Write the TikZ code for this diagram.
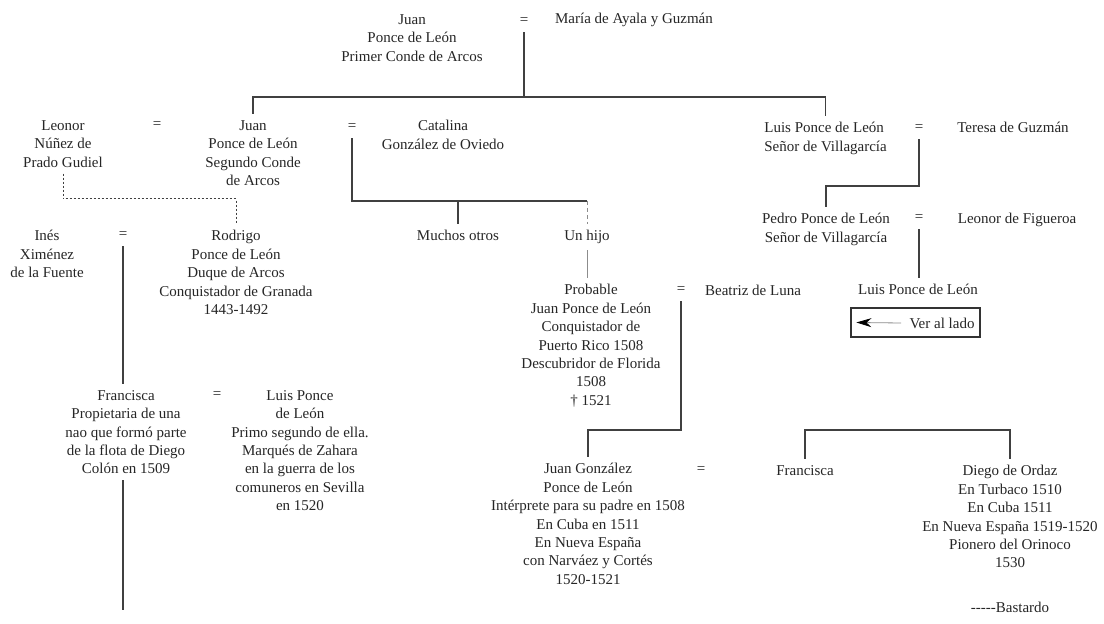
\documentclass[tikz,border=0pt]{standalone}
\usepackage{fontspec}
\setmainfont{Liberation Serif}
\usetikzlibrary{arrows.meta}

\begin{document}
\begin{tikzpicture}[x=0.5pt,y=-0.5pt,
    person/.style={align=center, anchor=north, yshift=5.5pt, inner xsep=0pt, inner ysep=3pt,
                   text=black!85, font=\fontsize{7.5}{9.2}\selectfont},
    eq/.style={inner sep=0pt, minimum height=11pt, text=black!85, font=\fontsize{7.5}{9.2}\selectfont},
    line/.style={draw=black!75, line width=0.55pt},
    thin line/.style={draw=black!45, line width=0.4pt},
    bastard/.style={draw=black!75, line width=0.5pt, dash pattern=on 1.2pt off 0.8pt}]

    \path[use as bounding box, fill=white] (0,0) rectangle (1104,624);

    \node[person] (jpl1) at (412,19) {Juan\\Ponce de León\\Primer Conde de Arcos};
    \node[eq] (eq1) at (524,21) {=};
    \node[person] (maria) at (634,18) {María de Ayala y Guzmán};

    \node[person] (leonor1) at (63,125) {Leonor\\Núñez de\\Prado Gudiel};
    \node[eq] (eq2) at (157,125) {=};
    \node[person] (jpl2) at (253,125) {Juan\\Ponce de León\\Segundo Conde\\de Arcos};
    \node[eq] (eq3) at (352,127) {=};
    \node[person] (catalina) at (443,125) {Catalina\\González de Oviedo};
    \node[person, align=left, anchor=north west] (luis1) at (764,127) {Luis Ponce de León\\Señor de Villagarcía};
    \node[eq] (eq4) at (919,128) {=};
    \node[person] (teresa) at (1013,127) {Teresa de Guzmán};

    \node[person] (pedro) at (826,218) {Pedro Ponce de León\\Señor de Villagarcía};
    \node[eq] (eq5) at (919,218) {=};
    \node[person] (leonor2) at (1017,218) {Leonor de Figueroa};
    \node[person] (luis2) at (918,289) {Luis Ponce de León};
    \node[draw=black!80, line width=0.6pt, minimum width=64.5pt, minimum height=14.5pt, inner sep=0pt]
        (verbox) at (915.5,322.5) {};
    \node[eq, minimum height=0pt] (vertext) at (942,323) {Ver al lado};

    \node[person] (ines) at (47,235) {Inés\\Ximénez\\de la Fuente};
    \node[eq] (eq6) at (123,235) {=};
    \node[person] (rodrigo) at (236,235) {Rodrigo\\Ponce de León\\Duque de Arcos\\Conquistador de Granada\\1443-1492};
    \node[person] (muchos) at (458,235) {Muchos otros};
    \node[person] (unhijo) at (587,235) {Un hijo};

    \node[person] (probable) at (591,289) {Probable\\Juan Ponce de León\\Conquistador de\\Puerto Rico 1508\\Descubridor de Florida\\1508\\† 1521};
    \node[eq] (eq7) at (681,290) {=};
    \node[person] (beatriz) at (753,290) {Beatriz de Luna};

    \node[person] (francisca1) at (126,395) {Francisca\\Propietaria de una\\nao que formó parte\\de la flota de Diego\\Colón en 1509};
    \node[eq] (eq8) at (217,395) {=};
    \node[person] (luis3) at (300,395) {Luis Ponce\\de León\\Primo segundo de ella.\\Marqués de Zahara\\en la guerra de los\\comuneros en Sevilla\\en 1520};

    \node[person] (juangonz) at (588,468) {Juan González\\Ponce de León\\Intérprete para su padre en 1508\\En Cuba en 1511\\En Nueva España\\con Narváez y Cortés\\1520-1521};
    \node[eq] (eq9) at (701,470) {=};
    \node[person] (francisca2) at (805,470) {Francisca};
    \node[person] (diego) at (1010,470) {Diego de Ordaz\\En Turbaco 1510\\En Cuba 1511\\En Nueva España 1519-1520\\Pionero del Orinoco\\1530};
    \node[person] (bastardo) at (1010,607) {{-}{-}{-}{-}{-}Bastardo};

    \coordinate (k1) at (0,97);
    \coordinate (k2) at (587,201);
    \coordinate (k3) at (0,199);
    \coordinate (k4) at (0,186);
    \coordinate (k5) at (0,430);
    \coordinate (k6) at (0,610);

    \draw[line] (eq1.south) -- (eq1.south |- k1);
    \draw[line] (jpl2.north) |- (eq1.south |- k1) -| (luis1.north);
    \draw[line] (eq3.south) |- (k2);
    \draw[line] (muchos.north) -- (muchos.north |- k2);
    \draw[thin line, dash pattern=on 2pt off 1.5pt] (k2) -- (unhijo.north);
    \draw[bastard] (leonor1.south) |- (rodrigo.north |- k3) -- (rodrigo.north);
    \draw[line] (eq4.south) |- (pedro.north |- k4) -- (pedro.north);
    \draw[line] (eq5.south) -- (eq5.south |- luis2.north);
    \draw[line] (eq6.south) -- (eq6.south |- francisca1.north);
    \draw[line] (eq6.south |- francisca1.south) -- (eq6.south |- k6);
    \draw[thin line] (unhijo.south) -- (unhijo.south |- probable.north);
    \draw[line] (eq7.south) |- (juangonz.north |- k5) -- (juangonz.north);
    \draw[line] (francisca2.north) -- (francisca2.north |- k5) -| (diego.north);
    \draw[thin line, -{Stealth[length=7.5pt, width=4.5pt, black]}] ([xshift=-4pt]vertext.west) -- ([xshift=3pt]verbox.west);

\end{tikzpicture}
\end{document}
